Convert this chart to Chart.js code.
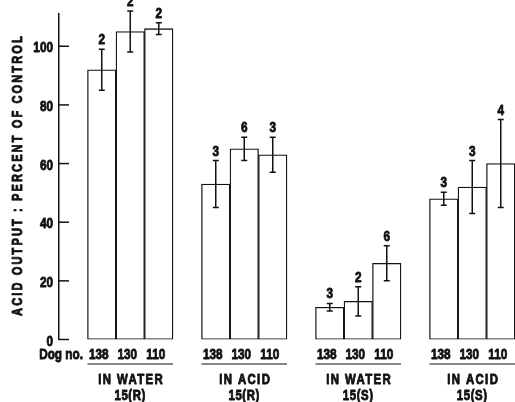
<!DOCTYPE html>
<html>
<head>
<meta charset="utf-8">
<script src="https://cdn.jsdelivr.net/npm/chart.js@4.4.1/dist/chart.umd.min.js"></script>
<style>
  body { margin: 0; background: #fff; }
  canvas { display: block; }
</style>
</head>
<body>
<canvas id="acidChart" width="515" height="402"></canvas>
<script>
// Dados
const dogNumbers = ['138', '130', '110'];
const groupNames = ['IN WATER', 'IN ACID', 'IN WATER', 'IN ACID'];
const groupSubs = ['15(R)', '15(R)', '15(S)', '15(S)'];
const acidMean = [92, 105, 106, 53, 65, 63, 11, 13, 26, 48, 52, 60];
const acidSem = [7, 7, 2, 8, 4, 6, 1.3, 5, 6, 2.2, 9, 15];
const dogCounts = [2, 2, 2, 3, 6, 3, 3, 2, 6, 3, 3, 4];
const yTicks = [0, 20, 40, 60, 80, 100];

const FONT = "'Liberation Sans', Arial, sans-serif";
const INK = '#111';
const NARROW = 0.76; // fonte estreita simulada

// Monta as categorias com um espaço vazio antes de cada grupo
const labels = [];
const barValues = [];
const barIndex = []; // índice do valor para cada categoria (ou -1)
groupNames.forEach((_, g) => {
    labels.push('');
    barValues.push(null);
    barIndex.push(-1);
    dogNumbers.forEach((dog, d) => {
        labels.push(dog);
        barValues.push(acidMean[g * 3 + d]);
        barIndex.push(g * 3 + d);
    });
});

// Texto em negrito comprimido na horizontal (com traço para ficar mais pesado)
function narrowText(ctx, text, x, y, size, align, spacing = 0) {
    ctx.save();
    ctx.translate(x, y);
    ctx.scale(NARROW, 1);
    ctx.font = `bold ${size}px ${FONT}`;
    ctx.letterSpacing = spacing + 'px';
    ctx.textAlign = align;
    ctx.lineWidth = 0.9;
    ctx.lineJoin = 'round';
    ctx.fillText(text, 0, 0);
    ctx.strokeText(text, 0, 0);
    ctx.restore();
}

// Plugin para barras de erro, contagens e textos dos eixos
const extrasPlugin = {
    id: 'extras',
    afterDatasetsDraw(chart) {
        const { ctx, scales: { y }, chartArea } = chart;
        const meta = chart.getDatasetMeta(0);
        ctx.save();
        ctx.strokeStyle = INK;
        ctx.fillStyle = INK;
        ctx.textBaseline = 'alphabetic';

        // barras de erro e número de cães
        barIndex.forEach((k, i) => {
            if (k < 0) return;
            const cx = meta.data[i].x;
            const top = y.getPixelForValue(acidMean[k] + acidSem[k]);
            const bot = y.getPixelForValue(acidMean[k] - acidSem[k]);
            ctx.lineWidth = 1.5;
            ctx.beginPath();
            ctx.moveTo(cx, top); ctx.lineTo(cx, bot);
            ctx.moveTo(cx - 3, top); ctx.lineTo(cx + 3, top);
            ctx.moveTo(cx - 3, bot); ctx.lineTo(cx + 3, bot);
            ctx.stroke();
            narrowText(ctx, String(dogCounts[k]), cx, top - 5, 15.5, 'center');
        });

        // marcas e rótulos do eixo y
        yTicks.forEach(v => {
            const py = y.getPixelForValue(v);
            ctx.lineWidth = 1.5;
            ctx.beginPath();
            ctx.moveTo(chartArea.left, py);
            ctx.lineTo(chartArea.left + 10, py);
            ctx.stroke();
            narrowText(ctx, String(v), chartArea.left - 6, py + 6, 15.5, 'right');
        });

        // título do eixo y
        ctx.save();
        ctx.translate(22, 175);
        ctx.rotate(-Math.PI / 2);
        narrowText(ctx, 'ACID OUTPUT : PERCENT OF CONTROL', 0, 0, 14.5, 'center', 2.8);
        ctx.restore();

        // rótulos dos cães
        narrowText(ctx, 'Dog no.', 83, 358.5, 15.5, 'right');
        barIndex.forEach((k, i) => {
            if (k < 0) return;
            narrowText(ctx, labels[i], meta.data[i].x - 3, 358.5, 15.5, 'center');
        });

        // sublinhados e nomes dos grupos
        groupNames.forEach((name, g) => {
            const first = meta.data[g * 4 + 1];
            const last = meta.data[g * 4 + 3];
            const left = first.x - first.width / 2;
            const right = last.x + last.width / 2;
            ctx.lineWidth = 1.2;
            ctx.beginPath();
            ctx.moveTo(left, 364); ctx.lineTo(right, 364);
            ctx.stroke();
            const mid = (left + right) / 2;
            narrowText(ctx, name, mid + 1, 383.5, 15, 'center', 1.8);
            narrowText(ctx, groupSubs[g], mid, 400, 15, 'center', 0.8);
        });
        ctx.restore();
    }
};

const ctx = document.getElementById('acidChart').getContext('2d');
new Chart(ctx, {
    type: 'bar',
    data: {
        labels: labels,
        datasets: [{
            data: barValues,
            backgroundColor: '#fff',
            borderColor: INK,
            borderWidth: 1.3,
            borderSkipped: false,
            barPercentage: 1,
            categoryPercentage: 1,
        }],
    },
    options: {
        responsive: false,
        animation: false,
        layout: { padding: { top: 14, left: 0, right: 0, bottom: 0 } },
        plugins: { legend: { display: false }, tooltip: { enabled: false } },
        scales: {
            x: {
                grid: { display: false },
                border: { display: false },
                ticks: { display: false },
                afterFit: s => { s.height = 62.5; },
            },
            y: {
                min: 0,
                max: 111,
                grid: { display: false },
                border: { color: INK, width: 1.5 },
                ticks: { display: false },
                afterBuildTicks: s => { s.ticks = yTicks.map(v => ({ value: v })); },
                afterFit: s => { s.width = 59; },
            },
        },
    },
    plugins: [extrasPlugin],
});
</script>
</body>
</html>
